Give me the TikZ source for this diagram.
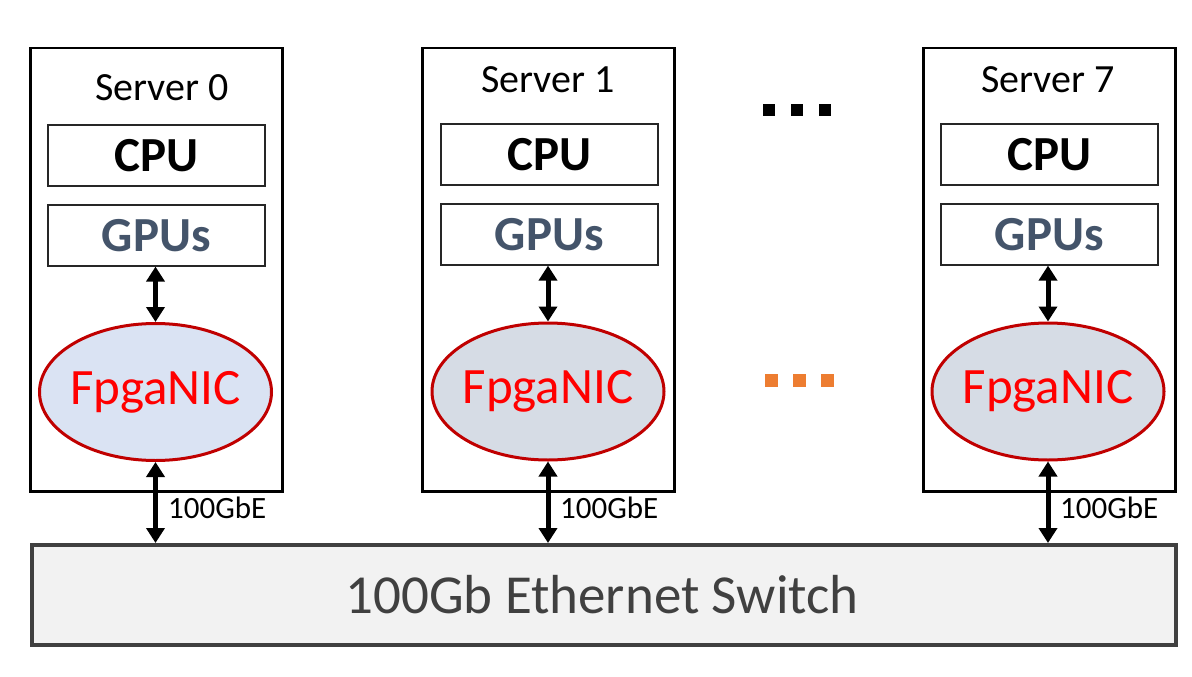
\documentclass[tikz,border=0pt]{standalone}
\usepackage{fontspec}
\setmainfont{Carlito}
\usetikzlibrary{shapes.geometric,arrows.meta}
\definecolor{nicred}{HTML}{C00000}
\definecolor{nictext}{HTML}{FF0000}
\definecolor{gputext}{HTML}{44546A}
\definecolor{fillA}{HTML}{DAE3F3}
\definecolor{fillB}{HTML}{D6DCE5}
\definecolor{swfill}{HTML}{F2F2F2}
\definecolor{swdraw}{HTML}{404040}
\definecolor{dotorange}{HTML}{ED7D31}
\tikzset{
  serverbox/.style={draw=black, line width=2.5pt, minimum width=252pt, minimum height=443pt, anchor=north west, inner sep=0pt},
  innerbox/.style={draw=black!85, line width=1.6pt, minimum width=217pt, minimum height=61pt, anchor=north west, inner sep=0pt},
  servertitle/.style={font=\fontsize{40}{46}\selectfont, text=black},
  cputext/.style={font=\fontsize{49}{55}\selectfont\bfseries, text=black},
  gputext/.style={font=\fontsize{49}{55}\selectfont\bfseries, text=gputext},
  nic/.style={ellipse, draw=nicred, line width=3pt, minimum width=232pt, minimum height=137pt, inner sep=0pt},
  nictext/.style={font=\fontsize{51}{57}\selectfont, text=nictext, inner sep=0pt},
  dblarrow/.style={line width=5pt, {Triangle[width=18pt,length=15pt]}-{Triangle[width=18pt,length=15pt]}, shorten <=0pt, shorten >=0pt},
  gbe/.style={font=\fontsize{31}{37}\selectfont, anchor=west, inner sep=0pt},
  sqblack/.style={fill=black, minimum size=12pt, inner sep=0pt},
  sqorange/.style={fill=dotorange, minimum size=13pt, inner sep=0pt},
}
\begin{document}
\begin{tikzpicture}[x=1pt,y=-1pt]
\useasboundingbox (0,0) rectangle (1192,677);
% switch
\node[draw=swdraw, fill=swfill, line width=3.5pt, minimum width=1144pt, minimum height=100pt, anchor=north west, inner sep=0pt] (sw) at (30,543) {};
\node[font=\fontsize{55}{61}\selectfont, text=swdraw] (swt) at (602,595) {100Gb Ethernet Switch};
% Server 0
\node[serverbox] (s0) at (29,47) {};
\node[servertitle] (s0t) at (162,88) {Server 0};
\node[innerbox] (c0) at (47,124) {};
\node[cputext] (c0t) at (c0.center) {CPU};
\node[innerbox] (g0) at (47,204) {};
\node[gputext] (g0t) at (g0.center) {GPUs};
\node[nic, fill=fillA] (n0) at (155.5,392) {};
\node[nictext] (n0t) at (n0.center) {FpgaNIC};
\coordinate (w0) at (155.5,543);
\draw[dblarrow] (g0.south -| n0.north) -- (n0.north);
\draw[dblarrow] (n0.south) -- (w0);
\node[gbe] (l0) at (168,508) {100GbE};
% Server 1
\node[serverbox] (s1) at (421,47) {};
\node[servertitle] (s1t) at (548,80) {Server 1};
\node[innerbox] (c1) at (440,123) {};
\node[cputext] (c1t) at (c1.center) {CPU};
\node[innerbox] (g1) at (440,203) {};
\node[gputext] (g1t) at (g1.center) {GPUs};
\node[nic, fill=fillB] (n1) at (548,391.5) {};
\node[nictext] (n1t) at (n1.center) {FpgaNIC};
\coordinate (w1) at (548,543);
\draw[dblarrow] (g1.south -| n1.north) -- (n1.north);
\draw[dblarrow] (n1.south) -- (w1);
\node[gbe] (l1) at (560,508) {100GbE};
% Server 7
\node[serverbox] (s7) at (922,47) {};
\node[servertitle] (s7t) at (1048,80) {Server 7};
\node[innerbox] (c7) at (940,123) {};
\node[cputext] (c7t) at (c7.center) {CPU};
\node[innerbox] (g7) at (940,203) {};
\node[gputext] (g7t) at (g7.center) {GPUs};
\node[nic, fill=fillB] (n7) at (1048,391.5) {};
\node[nictext] (n7t) at (n7.center) {FpgaNIC};
\coordinate (w7) at (1048,543);
\draw[dblarrow] (g7.south -| n7.north) -- (n7.north);
\draw[dblarrow] (n7.south) -- (w7);
\node[gbe] (l7) at (1060,508) {100GbE};
% dots
\node[sqblack] (d1) at (768.5,109.5) {};
\node[sqblack] (d2) at (796.5,109.5) {};
\node[sqblack] (d3) at (825,109.5) {};
\node[sqorange] (o1) at (771,380) {};
\node[sqorange] (o2) at (799,380) {};
\node[sqorange] (o3) at (827.5,380) {};
\end{tikzpicture}
\end{document}
